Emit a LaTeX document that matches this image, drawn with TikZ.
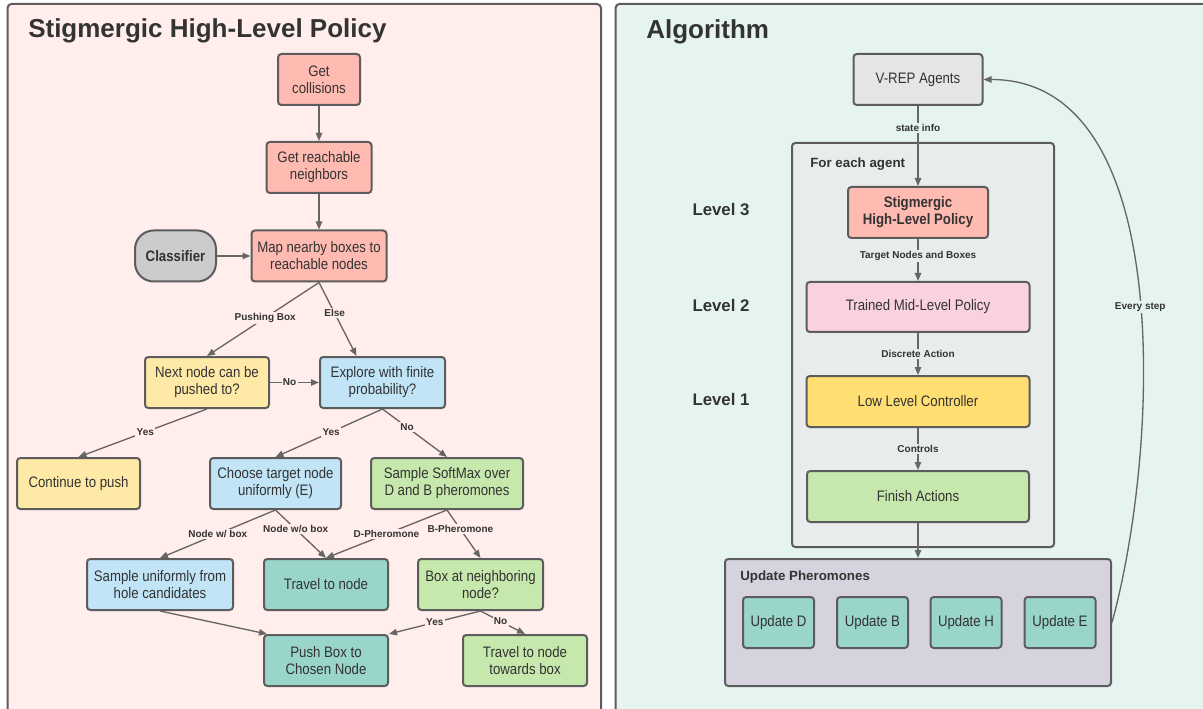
\documentclass[tikz,border=0pt]{standalone}
\usepackage{fontspec}
\setmainfont{Liberation Sans}
\newfontfamily\boxfont{Liberation Sans}[FakeStretch=0.87]
\usetikzlibrary{arrows.meta}

\definecolor{pinkbg}{HTML}{FFEEEB}
\definecolor{tealbg}{HTML}{E5F4F1}
\definecolor{feabg}{HTML}{E8ECEC}
\definecolor{updbg}{HTML}{D6D3DF}
\definecolor{salmonfill}{HTML}{FFBBB1}
\definecolor{yellowfill}{HTML}{FFE9A6}
\definecolor{goldfill}{HTML}{FFDF71}
\definecolor{bluefill}{HTML}{C1E4F7}
\definecolor{greenfill}{HTML}{C7E8AC}
\definecolor{tealfill}{HTML}{99D5CA}
\definecolor{grayfill}{HTML}{CCCCCC}
\definecolor{lightgrayfill}{HTML}{E5E5E5}
\definecolor{pinkfill}{HTML}{F9D2DE}
\definecolor{bordergray}{HTML}{5C5C5C}
\definecolor{linegray}{HTML}{666666}
\definecolor{textgray}{HTML}{333333}

\tikzset{
  box/.style={draw=bordergray, line width=1.5pt, rounded corners=2.5pt, minimum height=38.25pt,
    align=center, text=textgray, inner sep=1pt, font=\boxfont\fontsize{11.4}{12.8}\selectfont},
  boldbox/.style={box, font=\boxfont\fontsize{11.4}{12.8}\selectfont\bfseries},
  panel/.style={draw=bordergray, line width=1.5pt, rounded corners=3pt},
  flow/.style={draw=linegray, line width=1pt, -{Triangle[length=6pt,width=4.8pt]}},
  lbl/.style={text=textgray, inner sep=1pt, font=\fontsize{7.5}{9}\selectfont\bfseries},
  heading/.style={text=textgray, inner sep=0pt, anchor=west, font=\fontsize{19.5}{23}\selectfont\bfseries},
}

\begin{document}
\begin{tikzpicture}[x=0.75pt,y=0.75pt,yscale=-1,xscale=1]
\useasboundingbox (0,0) rectangle (1203,709);

% Panels
\draw [panel, fill=pinkbg] (7.5,4) rectangle (601,720) ;
\draw [panel, fill=tealbg] (615.5,4) rectangle (1215,720) ;

% Text Node
\draw (28,31) node [heading] (ttlleft) {Stigmergic High-Level Policy};
% Text Node
\draw (646,32) node [heading] (ttlright) {Algorithm};

% Text Node
\draw (319,79.5) node [box, fill=salmonfill, minimum width=61.5pt] (coll) {Get\\collisions};
% Text Node
\draw (319,167.5) node [box, fill=salmonfill, minimum width=78.75pt] (reach) {Get reachable\\neighbors};
% Text Node
\draw (319,256) node [box, fill=salmonfill, minimum width=101.25pt] (map) {Map nearby boxes to\\reachable nodes};
% Text Node
\draw (175.5,256) node [boldbox, fill=grayfill, minimum width=60.75pt, rounded corners=14pt] (clas) {Classifier};
% Text Node
\draw (207,382.5) node [box, fill=yellowfill, minimum width=93pt] (next) {Next node can be\\pushed to?};
% Text Node
\draw (382.5,382.5) node [box, fill=bluefill, minimum width=93.75pt] (expl) {Explore with finite\\probability?};
% Text Node
\draw (78.5,483.5) node [box, fill=yellowfill, minimum width=92.25pt] (cont) {Continue to push};
% Text Node
\draw (275.5,483.5) node [box, fill=bluefill, minimum width=98.25pt] (choose) {Choose target node\\uniformly (E)};
% Text Node
\draw (447,483.5) node [box, fill=greenfill, minimum width=114pt] (soft) {Sample SoftMax over\\D and B pheromones};
% Text Node
\draw (160,584.5) node [box, fill=bluefill, minimum width=109.5pt] (samp) {Sample uniformly from\\hole candidates};
% Text Node
\draw (326,584.5) node [box, fill=tealfill, minimum width=93pt] (trav) {Travel to node};
% Text Node
\draw (480.5,584.5) node [box, fill=greenfill, minimum width=93.75pt] (boxat) {Box at neighboring\\node?};
% Text Node
\draw (326,660.5) node [box, fill=tealfill, minimum width=93pt] (push) {Push Box to\\Chosen Node};
% Text Node
\draw (525,660.5) node [box, fill=greenfill, minimum width=93pt] (travbox) {Travel to node\\towards box};

% Connection
\draw [flow] (coll) -- (reach) ;
% Connection
\draw [flow] (reach) -- (map) ;
% Connection
\draw [flow] (clas) -- (map) ;
% Connection
\draw [flow] (map.south) -- node [lbl, fill=pinkbg, pos=0.48] {Pushing Box} (next.north) ;
% Connection
\draw [flow] (map.south) -- node [lbl, fill=pinkbg, pos=0.42] {Else} ([xshift=-19.5pt]expl.north) ;
% Connection
\draw [flow] (next) -- node [lbl, fill=pinkbg, pos=0.4] {No} (expl) ;
% Connection
\draw [flow] (next.south) -- node [lbl, fill=pinkbg, pos=0.48] {Yes} (cont.north) ;
% Connection
\draw [flow] (expl.south) -- node [lbl, fill=pinkbg, pos=0.48] {Yes} (choose.north) ;
% Connection
\draw [flow] (expl.south) -- node [lbl, fill=pinkbg, pos=0.38] {No} (soft.north) ;
% Connection
\draw [flow] (choose.south) -- node [lbl, fill=pinkbg, pos=0.5] {Node w/ box} (samp.north) ;
% Connection
\draw [flow] (choose.south) -- node [lbl, fill=pinkbg, pos=0.4] {Node w/o box} (trav.north) ;
% Connection
\draw [flow] (soft.south) -- node [lbl, fill=pinkbg, pos=0.5] {D-Pheromone} (trav.north) ;
% Connection
\draw [flow] (soft.south) -- node [lbl, fill=pinkbg, pos=0.4] {B-Pheromone} (boxat.north) ;
% Connection
\draw [flow] (samp.south) -- ([xshift=3pt]push.north west) ;
% Connection
\draw [flow] (boxat.south) -- node [lbl, fill=pinkbg, pos=0.5] {Yes} (push.north east) ;
% Connection
\draw [flow] (boxat.south) -- node [lbl, fill=pinkbg, pos=0.45] {No} (travbox.north) ;

% Containers
\draw (923,345) node [box, fill=feabg, minimum width=196.5pt, minimum height=303pt] (agent) {};
% Text Node
\draw (810,164) node [lbl, anchor=west, inner sep=0pt, font=\fontsize{10}{12}\selectfont\bfseries] (agentlbl) {For each agent};
% Text Node
\draw (918,622.5) node [box, fill=updbg, minimum width=289.5pt, minimum height=95.25pt] (upd) {};
% Text Node
\draw (740,577) node [lbl, anchor=west, inner sep=0pt, font=\fontsize{10}{12}\selectfont\bfseries] (updlbl) {Update Pheromones};

% Text Node
\draw (721,210) node [lbl, font=\fontsize{12.6}{15}\selectfont\bfseries] (lvl3) {Level 3};
% Text Node
\draw (721,305) node [lbl, font=\fontsize{12.6}{15}\selectfont\bfseries] (lvl2) {Level 2};
% Text Node
\draw (721,399) node [lbl, font=\fontsize{12.6}{15}\selectfont\bfseries] (lvl1) {Level 1};

% Text Node
\draw (918,79.5) node [box, fill=lightgrayfill, minimum width=96.75pt] (vrep) {V-REP Agents};
% Text Node
\draw (918,212.5) node [boldbox, fill=salmonfill, minimum width=105pt] (stig) {Stigmergic\\High-Level Policy};
% Text Node
\draw (918,307) node [box, fill=pinkfill, minimum width=167.25pt, minimum height=37.5pt] (mid) {Trained Mid-Level Policy};
% Text Node
\draw (918,401.5) node [box, fill=goldfill, minimum width=167.25pt] (low) {Low Level Controller};
% Text Node
\draw (918,496.5) node [box, fill=greenfill, minimum width=166.5pt] (fin) {Finish Actions};
% Text Node
\draw (778.5,622.5) node [box, fill=tealfill, minimum width=53.25pt] (updD) {Update D};
% Text Node
\draw (872.5,622.5) node [box, fill=tealfill, minimum width=53.25pt] (updB) {Update B};
% Text Node
\draw (966,622.5) node [box, fill=tealfill, minimum width=53.25pt] (updH) {Update H};
% Text Node
\draw (1060,622.5) node [box, fill=tealfill, minimum width=53.25pt] (updE) {Update E};

% Connection
\draw [flow] (vrep) -- node [lbl, fill=tealbg, pos=0.28] {state info} (stig) ;
% Connection
\draw [flow] (stig) -- node [lbl, fill=feabg, pos=0.41] {Target Nodes and Boxes} (mid) ;
% Connection
\draw [flow] (mid) -- node [lbl, fill=feabg, pos=0.5] {Discrete Action} (low) ;
% Connection
\draw [flow] (low) -- node [lbl, fill=feabg, pos=0.5] {Controls} (fin) ;
% Connection
\draw [flow] (fin) -- (upd) ;
% Connection
\draw [flow] (upd.east) .. controls +(47,-172) and +(194,0) .. node [lbl, fill=tealbg, pos=0.47] {Every step} (vrep.east) ;

\end{tikzpicture}
\end{document}
